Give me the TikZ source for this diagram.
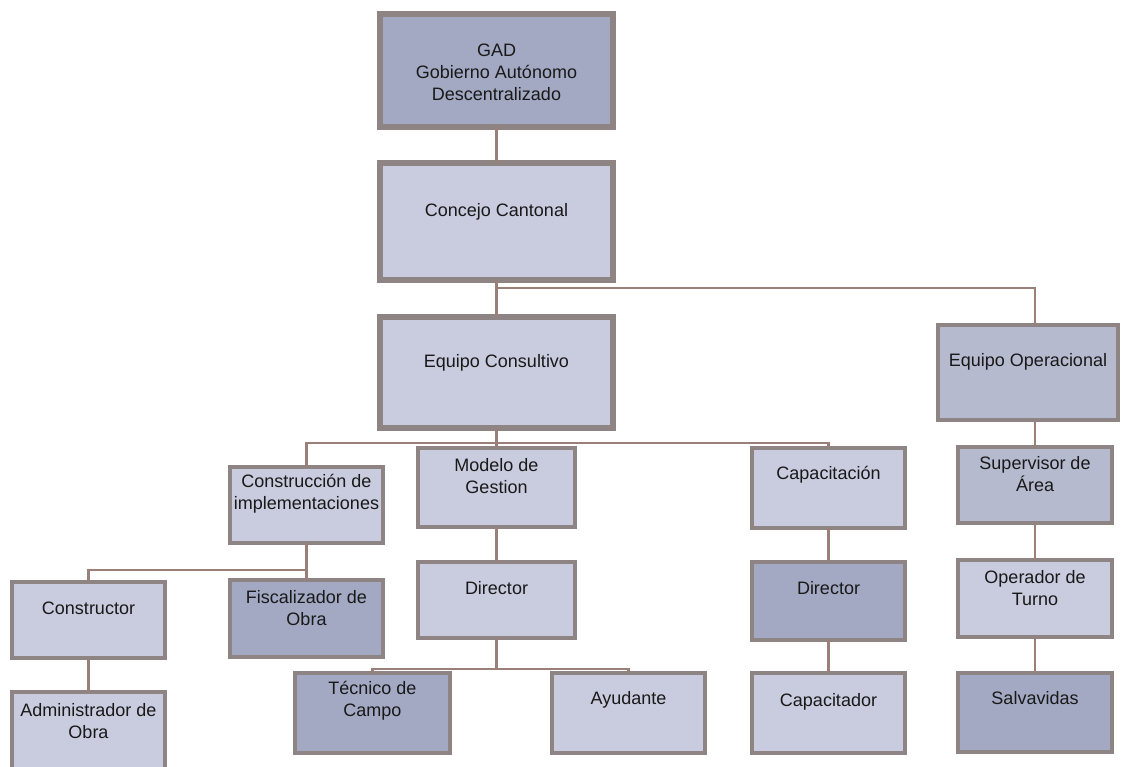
\documentclass[tikz,border=0pt]{standalone}
\usepackage{fontspec}
\setmainfont{Liberation Sans}
\usetikzlibrary{shadows}
\definecolor{lightfill}{HTML}{C8CCDE}
\definecolor{midfill}{HTML}{B6BACF}
\definecolor{darkfill}{HTML}{A4A9C3}
\definecolor{rim}{HTML}{8E8484}
\definecolor{wire}{HTML}{9A8078}
\tikzset{
  box/.style={draw=rim, line width=3.5pt, rectangle, inner sep=0pt, outer sep=0pt,
    drop shadow={shadow xshift=2pt, shadow yshift=-2pt, fill=gray!35}},
  bigbox/.style={box, line width=5.5pt},
  lbl/.style={align=center, inner sep=0pt, text=black!90, font=\fontsize{18}{22}\selectfont},
  conn/.style={draw=wire, line width=2.6pt}
}
% name, x1, y1, x2, y2, style, text y, text
\newcommand\obox[8]{%
  \node[#6, minimum width={#4-#2}, minimum height={#5-#3}, anchor=north west] (#1) at (#2,#3) {};
  \node[lbl] (#1t) at ({(#2+#4)/2},#7) {#8};
}
\begin{document}
\begin{tikzpicture}[x=1pt,y=-1pt]
\useasboundingbox (0,0) rectangle (1121,767);
\fill[white] (0,0) rectangle (1121,767);
\clip (0,0) rectangle (1121,767);

\coordinate (j1) at (496.5,288);
\coordinate (j2) at (496.5,443);
\coordinate (j3) at (306.5,570);
\coordinate (j4) at (496.5,669);
\coordinate (opx) at (1035,0);

\obox{gad}{380}{14}{613}{127}{bigbox,fill=darkfill}{72}{GAD\\Gobierno Autónomo\\Descentralizado}
\obox{concejo}{380}{163}{613}{280}{bigbox,fill=lightfill}{212}{Concejo Cantonal}
\obox{eqcons}{380}{317}{613}{428}{bigbox,fill=lightfill}{363}{Equipo Consultivo}
\obox{eqop}{938}{325}{1118}{420}{box,fill=midfill}{362}{Equipo Operacional}

\obox{constr}{230}{467}{383}{543}{box,fill=lightfill}{494}{Construcción de\\implementaciones}
\obox{modelo}{418}{448}{575}{527}{box,fill=lightfill}{476}{Modelo de\\Gestion}
\obox{capac}{752}{448}{905}{528}{box,fill=lightfill}{475}{Capacitación}
\obox{superv}{958}{447}{1112}{523}{box,fill=midfill}{474}{Supervisor de\\Área}

\obox{constructor}{12}{582}{165}{658}{box,fill=lightfill}{608}{Constructor}
\obox{fiscal}{230}{580}{383}{657}{box,fill=darkfill}{608}{Fiscalizador de\\Obra}
\obox{dirmod}{418}{562}{575}{638}{box,fill=lightfill}{588}{Director}
\obox{dircap}{752}{562}{905}{640}{box,fill=darkfill}{588}{Director}
\obox{operador}{958}{560}{1112}{637}{box,fill=lightfill}{588}{Operador de\\Turno}

\obox{admin}{12}{692}{165}{780}{box,fill=lightfill}{721}{Administrador de\\Obra}
\obox{tecnico}{295}{673}{450}{753}{box,fill=darkfill}{701}{Técnico de\\Campo}
\obox{ayudante}{552}{673}{705}{753}{box,fill=lightfill}{700}{Ayudante}
\obox{capacitador}{752}{673}{905}{753}{box,fill=lightfill}{702}{Capacitador}
\obox{salvav}{958}{673}{1112}{752}{box,fill=darkfill}{698}{Salvavidas}

% connectors
\draw[conn] (gad.south) -- (concejo.north);
\draw[conn] (concejo.south) -- (eqcons.north);
\draw[conn] (j1) -| (eqop.north -| opx);
\draw[conn] (eqcons.south) -- (j2);
\draw[conn] (constr.north) |- (j2) -| (capac.north);
\draw[conn] (j2) -- (modelo.north);
\draw[conn] (constr.south) -- (fiscal.north);
\draw[conn] (j3) -| (constructor.north);
\draw[conn] (constructor.south) -- (admin.north);
\draw[conn] (modelo.south) -- (dirmod.north);
\draw[conn] (dirmod.south) -- (j4);
\draw[conn] (tecnico.north) |- (j4) -| (ayudante.north);
\draw[conn] (capac.south) -- (dircap.north);
\draw[conn] (dircap.south) -- (capacitador.north);
\draw[conn] (eqop.south -| opx) -- (superv.north -| opx);
\draw[conn] (superv.south -| opx) -- (operador.north -| opx);
\draw[conn] (operador.south -| opx) -- (salvav.north -| opx);
\end{tikzpicture}
\end{document}
